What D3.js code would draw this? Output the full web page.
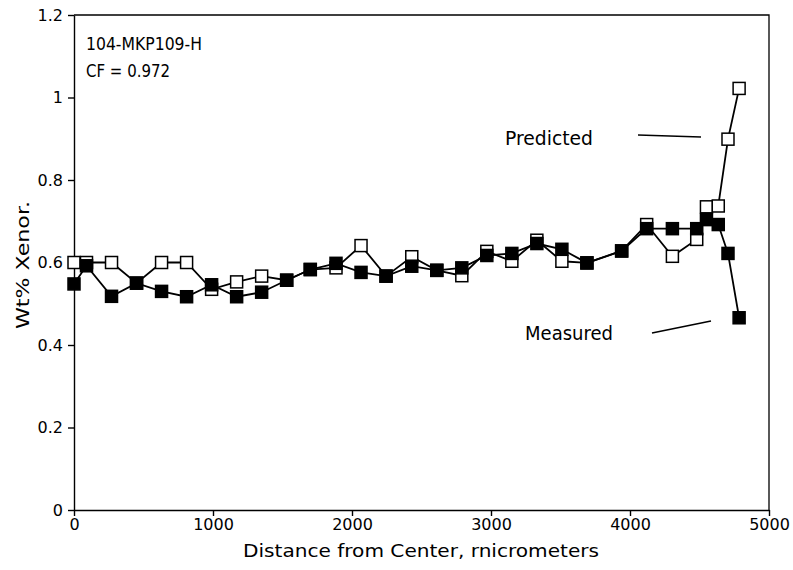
<!DOCTYPE html>
<html>
<head>
<meta charset="utf-8">
<script src="https://cdn.jsdelivr.net/npm/d3@7"></script>
<style>
  body { margin: 0; background: #fff; }
  text { font-family: "DejaVu Sans", sans-serif; fill: #000; }
</style>
</head>
<body>
<svg id="chart" width="793" height="570"></svg>
<script>
// distance from center (micrometers)
const distance = [0, 90, 270, 450, 630, 810, 990, 1170, 1350, 1530, 1700, 1885, 2065, 2245, 2430,
  2610, 2790, 2970, 3150, 3330, 3510, 3690, 3940, 4120, 4305, 4480, 4550, 4635, 4705, 4785];
// wt% xenon, open squares
const predicted = [0.600, 0.600, 0.600, 0.550, 0.600, 0.600, 0.535, 0.553, 0.567, 0.557, 0.583,
  0.587, 0.641, 0.567, 0.614, 0.581, 0.568, 0.627, 0.603, 0.654, 0.603, 0.599, 0.628, 0.692,
  0.615, 0.656, 0.735, 0.737, 0.899, 1.022];
// wt% xenon, filled squares
const measured = [0.548, 0.592, 0.518, 0.550, 0.530, 0.517, 0.546, 0.517, 0.528, 0.557, 0.583,
  0.598, 0.576, 0.567, 0.591, 0.581, 0.587, 0.617, 0.622, 0.646, 0.632, 0.599, 0.628, 0.682,
  0.682, 0.682, 0.704, 0.692, 0.622, 0.466];

const xTicks = [0, 1000, 2000, 3000, 4000, 5000];
const yTicks = [0, 0.2, 0.4, 0.6, 0.8, 1, 1.2];

const sampleLabel = "104-MKP109-H";
const cfLabel = "CF = 0.972";

const svg = d3.select("#chart");

const x = d3.scaleLinear().domain([0, 5000]).range([74, 769]);
const y = d3.scaleLinear().domain([0, 1.2]).range([510, 15]);

// frame (top + right)
svg.append("path")
  .attr("d", `M${x(0)},${y(1.2)}H${x(5000)}V${y(0)}`)
  .attr("fill", "none")
  .attr("stroke", "#000")
  .attr("stroke-width", 1.3);

// axes
const xAxis = svg.append("g")
  .attr("transform", `translate(0,${y(0)})`)
  .call(d3.axisBottom(x).tickValues(xTicks).tickSize(6).tickSizeOuter(0).tickPadding(3)
    .tickFormat(d3.format("d")));
const yAxis = svg.append("g")
  .attr("transform", `translate(${x(0)},0)`)
  .call(d3.axisLeft(y).tickValues(yTicks).tickSize(6).tickSizeOuter(0).tickPadding(5)
    .tickFormat(d3.format("~g")));

[xAxis, yAxis].forEach(g => {
  g.selectAll("path, line").attr("stroke", "#000").attr("stroke-width", 1.4);
  g.selectAll("text").style("font-family", "DejaVu Sans, sans-serif").style("font-size", "16px").attr("fill", "#000");
});

// axis titles
svg.append("text")
  .attr("x", 421).attr("y", 557)
  .attr("text-anchor", "middle")
  .attr("textLength", 356).attr("lengthAdjust", "spacingAndGlyphs")
  .style("font-size", "18px")
  .text("Distance from Center, rnicrometers");

svg.append("text")
  .attr("transform", `translate(29,265) rotate(-90)`)
  .attr("text-anchor", "middle")
  .attr("textLength", 128).attr("lengthAdjust", "spacingAndGlyphs")
  .style("font-size", "18px")
  .text("Wt% Xenor.");

// sample label
svg.append("text")
  .attr("x", 86).attr("y", 50)
  .attr("textLength", 116).attr("lengthAdjust", "spacingAndGlyphs")
  .style("font-size", "18px")
  .text(sampleLabel);
svg.append("text")
  .attr("x", 86).attr("y", 77)
  .attr("textLength", 84).attr("lengthAdjust", "spacingAndGlyphs")
  .style("font-size", "18px")
  .text(cfLabel);

// series
const pts = (vals) => distance.map((d, i) => ({ d, v: vals[i] }));
const line = d3.line().x(p => x(p.d)).y(p => y(p.v));
const sq = 12;

function drawSeries(data, filled) {
  svg.append("path")
    .datum(data)
    .attr("fill", "none")
    .attr("stroke", "#000")
    .attr("stroke-width", 1.8)
    .attr("d", line);
  svg.append("g")
    .selectAll("rect")
    .data(data)
    .join("rect")
    .attr("x", p => x(p.d) - sq / 2)
    .attr("y", p => y(p.v) - sq / 2)
    .attr("width", sq)
    .attr("height", sq)
    .attr("fill", filled ? "#000" : "#fff")
    .attr("stroke", "#000")
    .attr("stroke-width", 1.5);
}

drawSeries(pts(predicted), false);
drawSeries(pts(measured), true);

// annotations
svg.append("text")
  .attr("x", 505).attr("y", 145)
  .attr("textLength", 88).attr("lengthAdjust", "spacingAndGlyphs")
  .style("font-size", "19px")
  .text("Predicted");
svg.append("line")
  .attr("x1", 638).attr("y1", 135).attr("x2", 701).attr("y2", 137)
  .attr("stroke", "#000").attr("stroke-width", 1.6);

svg.append("text")
  .attr("x", 525).attr("y", 340)
  .attr("textLength", 88).attr("lengthAdjust", "spacingAndGlyphs")
  .style("font-size", "19px")
  .text("Measured");
svg.append("line")
  .attr("x1", 652).attr("y1", 333).attr("x2", 711).attr("y2", 321)
  .attr("stroke", "#000").attr("stroke-width", 1.6);
</script>
</body>
</html>
